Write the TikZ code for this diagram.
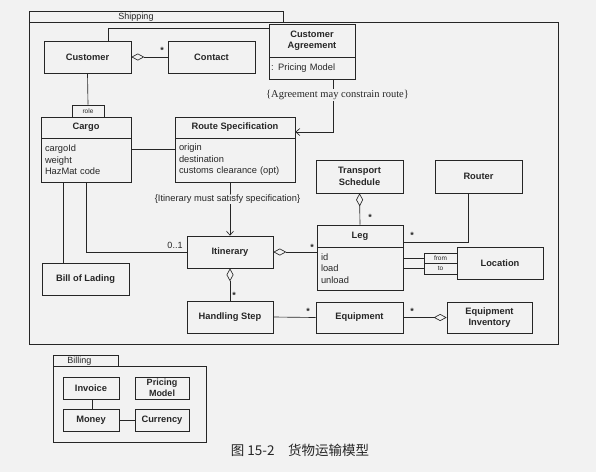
\documentclass[tikz,border=0pt]{standalone}
\usepackage{fontspec}
\setmainfont{Liberation Sans}
\setsansfont{Liberation Sans}
\newfontfamily\notefont{Liberation Serif}
\newfontfamily\cjk{Noto Sans CJK SC}
\usetikzlibrary{arrows.meta}
\definecolor{paper}{gray}{0.95}
\definecolor{ink}{gray}{0.15}
\tikzset{
  cls/.style={draw=ink, inner sep=0pt, align=center, font=\fontsize{9.3}{11.5}\selectfont\bfseries},
  attr/.style={draw=ink, inner xsep=4pt, inner ysep=0pt, align=left, font=\fontsize{9.3}{11.5}\selectfont},
  qual/.style={draw=ink, line width=0.9pt, inner sep=0pt, font=\fontsize{6.5}{7}\selectfont},
  mult/.style={inner sep=0pt, yshift=-1.5pt, font=\fontsize{9}{9}\selectfont\bfseries},
  note/.style={fill=paper, inner sep=1pt},
  aggr/.style={-{Diamond[open, length=13pt, width=7pt]}},
  dep/.style={-{Straight Barb[length=4pt, width=7pt]}},
  pkg/.style={draw=ink},
  pkglabel/.style={inner sep=0pt, font=\fontsize{9}{9}\selectfont}
}
\begin{document}
\begin{tikzpicture}[x=1pt, y=-1pt, line width=0.65pt, color=ink]
    \fill[paper] (0,0) rectangle (596,472);
    \useasboundingbox (0,0) rectangle (596,472);

    % Shipping
    \draw[pkg] (29,11) rectangle (283,22);
    \draw[pkg] (29,22) rectangle (558,344);
    \node[pkglabel, anchor=base] (shiplabel) at (136,19.5) {Shipping};

    \node[cls, minimum width=87pt, minimum height=32pt] (customer) at (87.5,57) {Customer};
    \node[cls, minimum width=87pt, minimum height=32pt] (contact) at (211.5,57) {Contact};
    \node[cls, minimum width=86pt, minimum height=33pt] (agreehead) at (312,40.5) {Customer\\Agreement};
    \node[attr, inner xsep=2pt, text width=82pt, minimum height=22pt] (agreeattr) at (312,68) {: Pricing Model};

    \node[qual, minimum width=32pt, minimum height=12pt] (role) at (88,111) {role};
    \node[cls, minimum width=90pt, minimum height=21pt] (cargohead) at (86,127.5) {Cargo};
    \node[attr, text width=82pt, minimum height=44pt] (cargoattr) at (86,160) {cargoId\\weight\\HazMat code};

    \node[cls, minimum width=120pt, minimum height=21pt] (routehead) at (235,127.5) {Route Specification};
    \node[attr, text width=112pt, minimum height=44pt] (routeattr) at (235,160) {origin\\destination\\customs clearance (opt)};

    \node[cls, minimum width=87pt, minimum height=32pt] (bill) at (85.5,279) {Bill of Lading};
    \node[cls, minimum width=86pt, minimum height=32pt] (itinerary) at (230,252) {Itinerary};
    \node[cls, minimum width=86pt, minimum height=32pt] (handling) at (230,317) {Handling Step};

    \node[cls, minimum width=87pt, minimum height=33pt] (schedule) at (359.5,176.5) {Transport\\Schedule};
    \node[cls, minimum width=87pt, minimum height=33pt] (router) at (478.5,176.5) {Router};

    \node[cls, minimum width=86pt, minimum height=22pt] (leghead) at (360,236) {Leg};
    \node[attr, text width=78pt, minimum height=43pt] (legattr) at (360,268.5) {id\\load\\unload};

    \node[cls, minimum width=86pt, minimum height=32pt] (location) at (500,263) {Location};
    \node[qual, minimum width=33pt, minimum height=10.5pt] (from) at (440.5,258.25) {from};
    \node[qual, minimum width=33pt, minimum height=10.5pt] (to) at (440.5,268.75) {to};

    \node[cls, minimum width=87pt, minimum height=31pt] (equipment) at (359.5,317.5) {Equipment};
    \node[cls, minimum width=85pt, minimum height=31pt] (inventory) at (489.5,317.5) {Equipment\\Inventory};

    % connectors
    \draw[aggr] (contact.west) -- (customer.east);
    \node[mult] (mcontact) at (162,49) {*};
    \draw ([xshift=-23pt]customer.north east) |- ([yshift=-5pt]agreehead.north west);
    \draw (customer.south) -- (role.north);
    \draw ([yshift=11pt]cargoattr.east) -- ([yshift=11pt]routeattr.west);
    \draw ([xshift=-23pt]cargoattr.south) -- ([xshift=-23pt]cargoattr.south |- bill.north);
    \draw (cargoattr.south) |- (itinerary.west);
    \node (mitin) at (175,245) {\fontsize{9}{9}\selectfont 0..1};

    \draw[dep] ([xshift=21pt]agreeattr.south) |- ([yshift=-4.5pt]routehead.east);
    \node[note, font=\notefont\fontsize{10.5}{11}\selectfont] (agreenote) at (337.5,95) {\{Agreement may constrain route\}};
    \draw[dep] (routeattr.south -| itinerary.north) -- (itinerary.north);
    \node[note, font=\fontsize{9.3}{10}\selectfont] (itinnote) at (227.5,199) {\{Itinerary must satisfy specification\}};

    \draw[aggr] (handling.north) -- (itinerary.south);
    \node[mult] (mhandling) at (234,294) {*};
    \draw[aggr] (itinerary.east -| leghead.west) -- (itinerary.east);
    \node[mult] (mlegitin) at (312,246) {*};
    \draw[aggr] (leghead.north) -- (schedule.south);
    \node[mult] (mlegsched) at (370,216) {*};
    \draw ([xshift=-10.5pt]router.south) |- ([yshift=-6pt]leghead.east);
    \node[mult] (mlegrouter) at (412,234) {*};
    \draw (legattr.east |- from.west) -- (from.west);
    \draw (legattr.east |- to.west) -- (to.west);
    \draw (handling.east) -- (equipment.west);
    \node[mult] (mequip) at (308,310) {*};
    \draw[aggr] (equipment.east) -- (inventory.west);
    \node[mult] (minvent) at (412,310) {*};

    % Billing
    \draw[pkg] (53,355) rectangle (118,366);
    \draw[pkg] (53,366) rectangle (206,442);
    \node[pkglabel, anchor=base] (billlabel) at (79.5,363.5) {Billing};
    \node[cls, minimum width=56pt, minimum height=22pt] (invoice) at (91,388) {Invoice};
    \node[cls, minimum width=54pt, minimum height=22pt, font=\fontsize{9}{10.5}\selectfont\bfseries] (pricing) at (162,388) {Pricing\\Model};
    \node[cls, minimum width=56pt, minimum height=22pt] (money) at (91,420) {Money};
    \node[cls, minimum width=54pt, minimum height=22pt] (currency) at (162,420) {Currency};
    \draw ([xshift=1pt]invoice.south) -- ([xshift=1pt]money.north);
    \draw (money.east) -- (currency.west);

    % caption
    \node[font=\cjk\fontsize{13.5}{14}\selectfont] (caption) at (300,450) {图 15-2\quad 货物运输模型};
\end{tikzpicture}
\end{document}
